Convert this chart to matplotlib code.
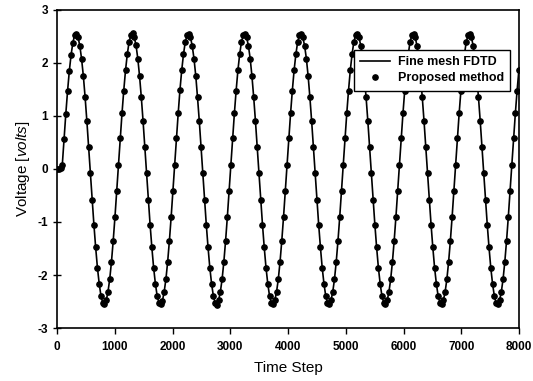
import numpy as np
import matplotlib.pyplot as plt

plt.rcParams['font.family'] = ['Liberation Sans', 'DejaVu Sans']
plt.rcParams['mathtext.fontset'] = 'custom'
plt.rcParams['mathtext.it'] = 'Liberation Sans:italic'
plt.rcParams['mathtext.rm'] = 'Liberation Sans'
plt.rcParams['axes.unicode_minus'] = False

# Voltage samples, one sample every ~30.4 time steps
sample_step = 30.4
voltage = [
    0.00, 0.00, 0.01,
    0.08, 0.57, 1.04, 1.47, 1.85, 2.15, 2.38, 2.52, 2.55, 2.48, 2.32, 2.07, 1.75, 1.35, 0.90, 0.42,
    -0.08, -0.58, -1.05, -1.48, -1.86, -2.16, -2.39, -2.52, -2.55, -2.48, -2.32, -2.08, -1.75, -1.35, -0.90, -0.42,
    0.08, 0.58, 1.05, 1.48, 1.86, 2.16, 2.39, 2.52, 2.56, 2.48, 2.33, 2.08, 1.75, 1.35, 0.90, 0.42,
    -0.08, -0.58, -1.05, -1.48, -1.86, -2.16, -2.39, -2.52, -2.55, -2.49, -2.32, -2.08, -1.75, -1.35, -0.90, -0.42,
    0.08, 0.58, 1.05, 1.49, 1.86, 2.16, 2.39, 2.52, 2.55, 2.48, 2.32, 2.08, 1.76, 1.35, 0.91, 0.42,
    -0.08, -0.58, -1.05, -1.48, -1.86, -2.16, -2.39, -2.52, -2.56, -2.48, -2.32, -2.08, -1.75, -1.35, -0.90, -0.42,
    0.08, 0.58, 1.05, 1.48, 1.86, 2.16, 2.39, 2.52, 2.55, 2.48, 2.32, 2.08, 1.75, 1.35, 0.90, 0.42,
    -0.08, -0.58, -1.05, -1.48, -1.86, -2.16, -2.39, -2.52, -2.55, -2.48, -2.32, -2.08, -1.75, -1.35, -0.90, -0.42,
    0.08, 0.58, 1.05, 1.48, 1.86, 2.16, 2.39, 2.52, 2.55, 2.48, 2.32, 2.08, 1.75, 1.35, 0.90, 0.42,
    -0.08, -0.58, -1.05, -1.48, -1.86, -2.16, -2.39, -2.52, -2.55, -2.48, -2.32, -2.08, -1.75, -1.35, -0.90, -0.42,
    0.08, 0.58, 1.05, 1.48, 1.86, 2.16, 2.39, 2.52, 2.55, 2.48, 2.32, 2.08, 1.75, 1.35, 0.90, 0.42,
    -0.08, -0.58, -1.05, -1.48, -1.86, -2.16, -2.39, -2.52, -2.55, -2.48, -2.32, -2.08, -1.75, -1.35, -0.90, -0.42,
    0.08, 0.58, 1.05, 1.48, 1.86, 2.16, 2.39, 2.52, 2.55, 2.48, 2.32, 2.08, 1.75, 1.35, 0.90, 0.42,
    -0.08, -0.58, -1.05, -1.48, -1.86, -2.16, -2.39, -2.52, -2.55, -2.48, -2.32, -2.08, -1.75, -1.35, -0.90, -0.42,
    0.08, 0.58, 1.05, 1.48, 1.86, 2.16, 2.39, 2.52, 2.55, 2.48, 2.32, 2.08, 1.75, 1.35, 0.90, 0.42,
    -0.08, -0.58, -1.05, -1.48, -1.86, -2.16, -2.39, -2.52, -2.55, -2.48, -2.32, -2.08, -1.75, -1.35, -0.90, -0.42,
    0.08, 0.58, 1.05, 1.48, 1.86,
]
time = np.arange(len(voltage)) * sample_step

x_ticks = [0, 1000, 2000, 3000, 4000, 5000, 6000, 7000, 8000]
y_ticks = [-3, -2, -1, 0, 1, 2, 3]

fig = plt.figure(figsize=(5.33, 3.81), dpi=100)
ax = fig.add_axes([0.107, 0.139, 0.867, 0.835])

ax.plot(time, voltage, color='black', linewidth=1.2, label='Fine mesh FDTD')
ax.plot(time, voltage, linestyle='none', marker='o', markersize=3.8,
        color='black', label='Proposed method')

ax.set_xlim(0, 8000)
ax.set_ylim(-3, 3)
ax.set_xticks(x_ticks)
ax.set_yticks(y_ticks)
ax.tick_params(axis='x', direction='out', length=4, width=1, labelsize=8.5, pad=5)
ax.tick_params(axis='y', direction='inout', length=6, width=1, labelsize=8.5)
for lbl in ax.get_xticklabels() + ax.get_yticklabels():
    lbl.set_fontweight('bold')
for sp in ax.spines.values():
    sp.set_linewidth(1.2)

ax.set_xlabel('Time Step', fontsize=11, labelpad=6)
ax.set_ylabel(r'Voltage [$\it{volts}$]', fontsize=11, labelpad=4)

leg = ax.legend(loc='upper right', bbox_to_anchor=(0.98, 0.875), borderaxespad=0,
                fancybox=False, edgecolor='black', framealpha=1, fontsize=9,
                handlelength=2.4, handletextpad=0.6, borderpad=0.5, labelspacing=0.35)
leg.get_frame().set_linewidth(1.0)
for t in leg.get_texts():
    t.set_fontweight('bold')

fig.savefig('out.png', dpi=100)
